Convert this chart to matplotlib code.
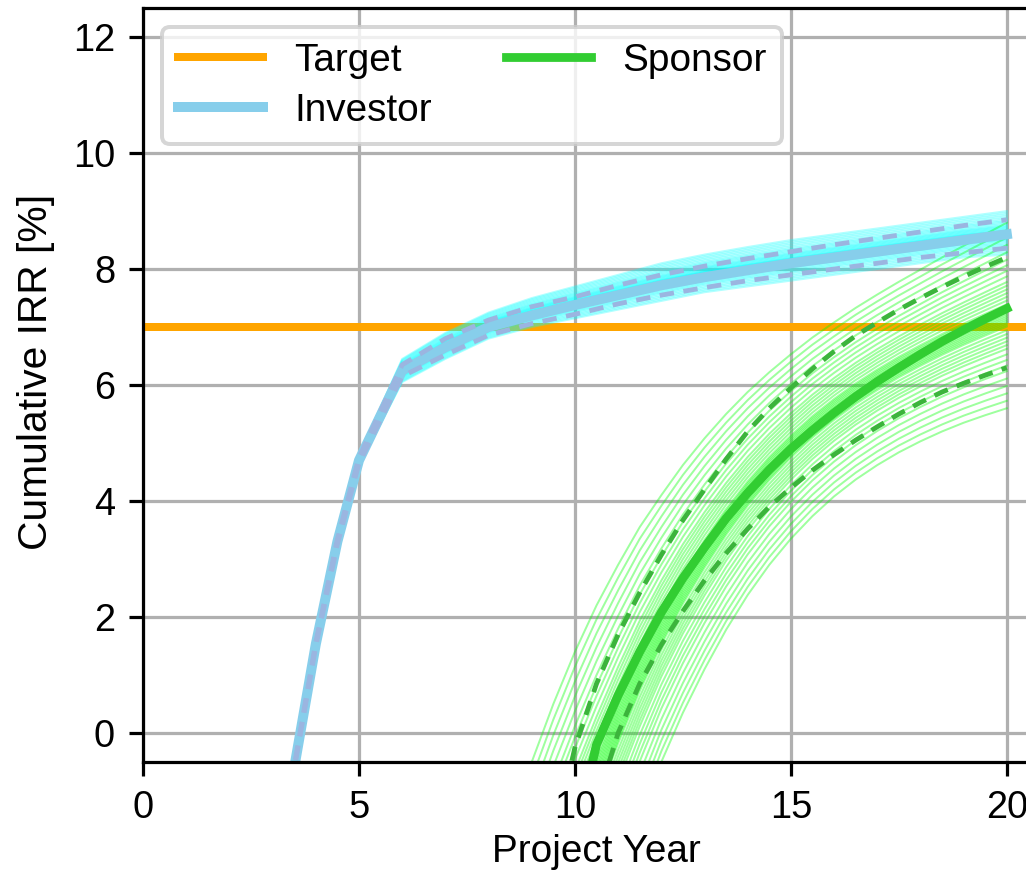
import numpy as np
import matplotlib
matplotlib.use("Agg")
import matplotlib.pyplot as plt

plt.rcParams['font.family'] = ['Liberation Sans', 'DejaVu Sans']
plt.rcParams['font.size'] = 9.7

# Investor IRR
inv_years = [3, 3.5, 4, 4.5, 5, 6, 7, 8, 9, 10, 11, 12, 13, 14, 15, 16, 17, 18, 19, 20]
inv_median = [-2.7, -0.6, 1.53, 3.3, 4.7, 6.25, 6.65, 7.0, 7.2, 7.38, 7.55, 7.72, 7.86, 7.98, 8.1, 8.2, 8.3, 8.4, 8.5, 8.6]
inv_upper = [-2.7, -0.58, 1.56, 3.34, 4.75, 6.35, 6.8, 7.12, 7.35, 7.52, 7.72, 7.9, 8.05, 8.18, 8.3, 8.42, 8.53, 8.64, 8.75, 8.85]
inv_lower = [-2.7, -0.62, 1.5, 3.26, 4.65, 6.15, 6.52, 6.86, 7.06, 7.22, 7.4, 7.55, 7.68, 7.8, 7.9, 8.0, 8.1, 8.2, 8.28, 8.36]
inv_hi = [-2.6, -0.55, 1.6, 3.38, 4.8, 6.45, 6.9, 7.25, 7.5, 7.7, 7.9, 8.1, 8.25, 8.38, 8.5, 8.6, 8.7, 8.8, 8.9, 9.0]
inv_lo = [-2.8, -0.65, 1.46, 3.23, 4.6, 6.05, 6.45, 6.8, 7.0, 7.15, 7.3, 7.45, 7.6, 7.7, 7.8, 7.9, 8.0, 8.1, 8.2, 8.25]

# Sponsor IRR (half-year readings)
sp_years = [9, 9.5, 10, 10.5, 11, 11.5, 12, 12.5, 13, 13.5, 14, 14.5, 15,
            15.5, 16, 16.5, 17, 17.5, 18, 18.5, 19, 19.5, 20]
sp_median = [-5.6, -3.6, -1.8, -0.2, 0.65, 1.4, 2.08, 2.67, 3.2, 3.7, 4.14, 4.54, 4.9,
             5.22, 5.52, 5.8, 6.06, 6.3, 6.53, 6.75, 6.95, 7.14, 7.32]
sp_upper = [-3.8, -1.9, -0.25, 0.85, 1.7, 2.42, 3.07, 3.67, 4.2, 4.72, 5.2, 5.6, 5.95,
            6.28, 6.58, 6.85, 7.08, 7.3, 7.5, 7.69, 7.87, 8.04, 8.2]
sp_lower = [-6.5, -4.8, -2.9, -1.2, 0.0, 0.85, 1.52, 2.1, 2.63, 3.1, 3.52, 3.9, 4.23,
            4.53, 4.8, 5.05, 5.28, 5.5, 5.7, 5.88, 6.03, 6.17, 6.3]
sp_hi = [-0.5, 0.5, 1.4, 2.2, 2.9, 3.55, 4.1, 4.62, 5.08, 5.5, 5.88, 6.22, 6.53,
         6.82, 7.08, 7.33, 7.56, 7.78, 7.99, 8.2, 8.4, 8.6, 8.8]
sp_lo = [-7.5, -6.2, -5.0, -3.8, -2.6, -1.5, -0.5, 0.35, 1.1, 1.78, 2.38, 2.9, 3.35,
         3.74, 4.08, 4.37, 4.62, 4.84, 5.03, 5.2, 5.35, 5.48, 5.6]

# position of each simulated run inside the spread
run_weights = [0.0, 0.04, 0.08, 0.12, 0.16, 0.2, 0.23, 0.26, 0.29, 0.32, 0.34, 0.36,
               0.38, 0.4, 0.42, 0.44, 0.45, 0.46, 0.47, 0.48, 0.49, 0.5, 0.51, 0.52,
               0.53, 0.54, 0.55, 0.56, 0.58, 0.6, 0.62, 0.64, 0.66, 0.68, 0.71, 0.74,
               0.77, 0.8, 0.84, 0.88, 0.92, 0.96, 1.0]

target_irr = 7.0

fig = plt.figure(figsize=(1026 / 288, 877 / 288), dpi=288)
ax = fig.add_axes([0.1394, 0.1311, 0.884, 0.8597])

ax.axhline(target_irr, color='orange', lw=2, label='Target', zorder=1.8)

lo, hi = np.array(inv_lo), np.array(inv_hi)
for w in run_weights:
    ax.plot(inv_years, lo + w * (hi - lo), color='cyan', lw=0.5, alpha=0.3)
lo, hi = np.array(sp_lo), np.array(sp_hi)
for w in run_weights:
    ax.plot(sp_years, lo + w * (hi - lo), color='lime', lw=0.5, alpha=0.38)

ax.plot(inv_years, inv_median, color='skyblue', lw=2.5, label='Investor')
ax.plot(inv_years, inv_upper, color='#9bb5e0', lw=1.2, ls=(0, (3, 2)))
ax.plot(inv_years, inv_lower, color='#9bb5e0', lw=1.2, ls=(0, (3, 2)))

ax.plot(sp_years, sp_median, color='limegreen', lw=2.2, label='Sponsor')
ax.plot(sp_years, sp_upper, color='#3cb43c', lw=1.2, ls=(0, (3, 2)))
ax.plot(sp_years, sp_lower, color='#3cb43c', lw=1.2, ls=(0, (3, 2)))

ax.set_xlim(0, 21)
ax.set_ylim(-0.5, 12.5)
ax.set_xticks([0, 5, 10, 15, 20])
ax.set_yticks([0, 2, 4, 6, 8, 10, 12])
ax.tick_params(labelsize=9.5)
ax.grid(True)
ax.set_xlabel('Project Year', labelpad=2)
ax.set_ylabel('Cumulative IRR [%]', fontsize=10.2)
ax.yaxis.set_label_coords(-0.097, 0.517)
ax.legend(loc='upper left', ncol=2, handlelength=2.2, columnspacing=1.9,
          labelspacing=0.35)

fig.savefig('out.png', dpi=288)
